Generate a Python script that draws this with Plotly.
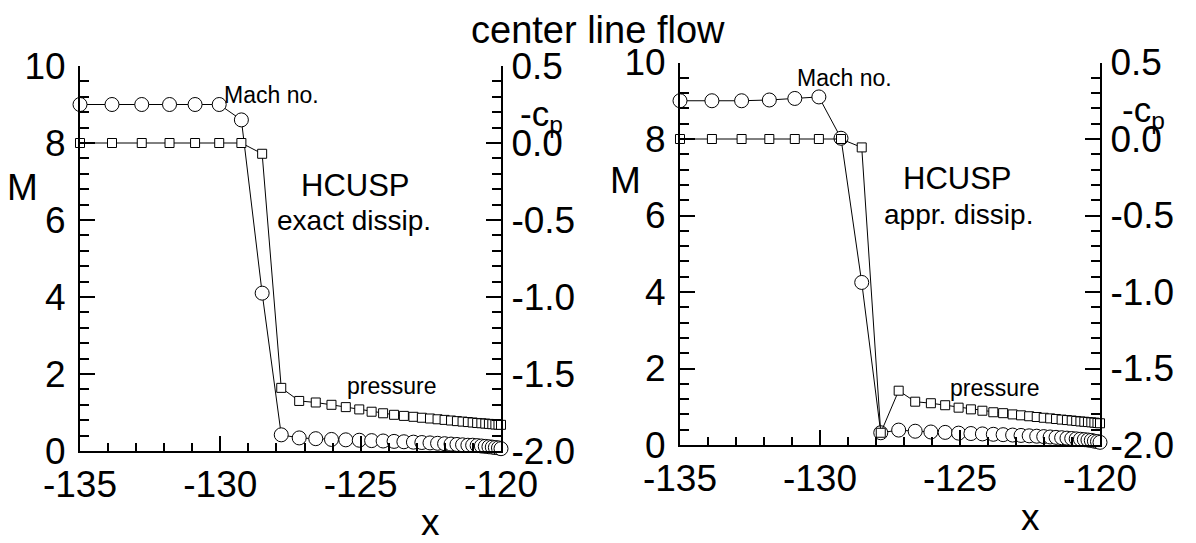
import plotly.graph_objects as go

# Grid stations along the centre line (same grid for both runs)
x_grid = [-135.0, -133.86, -132.80, -131.81, -130.90, -130.04, -129.25, -128.51,
          -127.83, -127.19, -126.60, -126.04, -125.53, -125.05, -124.61, -124.20,
          -123.81, -123.46, -123.12, -122.82, -122.53, -122.26, -122.01, -121.78,
          -121.57, -121.37, -121.18, -121.01, -120.85, -120.70, -120.56, -120.43,
          -120.31, -120.20, -120.09, -120.0]

# HCUSP, exact dissipation
mach_exact = [9.0, 9.0, 9.0, 9.0, 9.0, 9.0, 8.6, 4.1,
              0.42, 0.34, 0.32, 0.30, 0.29, 0.28, 0.27, 0.26,
              0.25, 0.24, 0.23, 0.22, 0.21, 0.20, 0.19, 0.18,
              0.17, 0.16, 0.15, 0.15, 0.14, 0.13, 0.12, 0.11,
              0.10, 0.09, 0.08, 0.06]
cp_exact = [0.0, 0.0, 0.0, 0.0, 0.0, 0.0, 0.0, -0.07,
            -1.59, -1.675, -1.685, -1.70, -1.715, -1.73, -1.745, -1.755,
            -1.765, -1.772, -1.778, -1.784, -1.789, -1.794, -1.798, -1.802,
            -1.806, -1.809, -1.812, -1.815, -1.818, -1.82, -1.822, -1.824,
            -1.826, -1.828, -1.829, -1.83]

# HCUSP, approximate dissipation
mach_appr = [9.0, 9.0, 9.0, 9.02, 9.06, 9.1, 8.02, 4.25,
             0.32, 0.39, 0.36, 0.34, 0.33, 0.31, 0.30, 0.29,
             0.28, 0.27, 0.26, 0.25, 0.24, 0.23, 0.22, 0.21,
             0.20, 0.19, 0.18, 0.17, 0.16, 0.15, 0.14, 0.13,
             0.12, 0.10, 0.09, 0.07]
cp_appr = [0.0, 0.0, 0.0, 0.0, 0.0, 0.0, 0.0, -0.055,
           -1.92, -1.645, -1.717, -1.727, -1.74, -1.756, -1.767, -1.776,
           -1.786, -1.792, -1.80, -1.806, -1.812, -1.817, -1.822, -1.826,
           -1.83, -1.834, -1.837, -1.84, -1.843, -1.846, -1.848, -1.85,
           -1.852, -1.854, -1.856, -1.858]

# Tick labels
x_ticks = [-135, -130, -125, -120]
x_tick_text = ["-135", "-130", "-125", "-120"]
m_ticks = [0, 2, 4, 6, 8, 10]
m_tick_text = ["0", "2", "4", "6", "8", "10"]
cp_ticks = [-2.0, -1.5, -1.0, -0.5, 0.0, 0.5]
cp_tick_text = ["-2.0", "-1.5", "-1.0", "-0.5", "0.0", "0.5"]

W, H = 1196, 543
FONT = "Liberation Sans, Arial, sans-serif"


def px(x, y):
    return x / W, 1 - y / H


fig = go.Figure()

line_style = dict(color="black", width=1)
circle = dict(symbol="circle", size=14, color="white", line=dict(color="black", width=1))
square = dict(symbol="square", size=9, color="white", line=dict(color="black", width=1))

for xa, ya_m, ya_cp, mach, cp in [("x", "y", "y2", mach_exact, cp_exact),
                                   ("x2", "y3", "y4", mach_appr, cp_appr)]:
    fig.add_trace(go.Scatter(x=x_grid, y=mach, xaxis=xa, yaxis=ya_m, mode="lines+markers",
                             line=line_style, marker=circle, cliponaxis=False,
                             showlegend=False))
    fig.add_trace(go.Scatter(x=x_grid, y=cp, xaxis=xa, yaxis=ya_cp, mode="lines+markers",
                             line=line_style, marker=square, cliponaxis=False,
                             showlegend=False))

tick_font = dict(family=FONT, size=37, color="black")
common = dict(showline=True, linecolor="black", linewidth=2, showgrid=False,
              zeroline=False, ticks="inside", tickwidth=2, ticklen=15,
              tickcolor="black", tickfont=tick_font, tickmode="array",
              automargin=False, fixedrange=True)


def xaxis(domain):
    return dict(common, domain=domain, range=[-135, -120], tickvals=x_ticks,
                ticktext=x_tick_text, ticklabelstandoff=0,
                minor=dict(tickmode="linear", tick0=-135, dtick=1, ticks="inside",
                           ticklen=8, tickwidth=1.5, tickcolor="black"))


def m_axis(domain, anchor):
    return dict(common, domain=domain, anchor=anchor, range=[0, 10], tickvals=m_ticks,
                ticktext=m_tick_text, ticklabelstandoff=5,
                minor=dict(tickmode="linear", tick0=0, dtick=0.4, ticks="inside",
                           ticklen=9, tickwidth=1.5, tickcolor="black"))


def cp_axis(over, anchor):
    return dict(common, overlaying=over, anchor=anchor, side="right", range=[-2.0, 0.5],
                tickvals=cp_ticks, ticktext=cp_tick_text, ticklabelstandoff=1,
                minor=dict(tickmode="linear", tick0=-2.0, dtick=0.1, ticks="inside",
                           ticklen=9, tickwidth=1.5, tickcolor="black"))


left_x = [80 / W, 501 / W]
right_x = [680 / W, 1100 / W]
left_y = [(H - 451) / H, (H - 66) / H]
right_y = [(H - 445) / H, (H - 62.5) / H]

fig.update_layout(
    width=W, height=H, margin=dict(l=0, r=0, t=0, b=0),
    paper_bgcolor="white", plot_bgcolor="white",
    xaxis=dict(xaxis(left_x), anchor="y"),
    yaxis=m_axis(left_y, "x"),
    yaxis2=cp_axis("y", "x"),
    xaxis2=dict(xaxis(right_x), anchor="y3"),
    yaxis3=m_axis(right_y, "x2"),
    yaxis4=cp_axis("y3", "x2"),
)


def label(x, y, text, size, xanchor="center"):
    ax, ay = px(x, y)
    fig.add_annotation(x=ax, y=ay, xref="paper", yref="paper", text=text,
                       showarrow=False, xanchor=xanchor, yanchor="middle",
                       font=dict(family=FONT, size=size, color="black"))


label(598, 30, "center line flow", 38)

# left panel
label(22, 187, "M", 37)
label(430, 522, "x", 37)
label(541, 116, "-c<sub>p</sub>", 35)
label(222, 95, "Mach no.", 23, xanchor="left")
label(355, 185, "HCUSP", 31)
label(354, 221, "exact dissip.", 28)
label(345, 386, "pressure", 23, xanchor="left")

# right panel
label(625, 180, "M", 37)
label(1030, 517, "x", 37)
label(1143, 112, "-c<sub>p</sub>", 35)
label(795, 78, "Mach no.", 23, xanchor="left")
label(957, 178, "HCUSP", 31)
label(958, 214, "appr. dissip.", 28)
label(948, 388, "pressure", 23, xanchor="left")

fig.write_html("out.html")
